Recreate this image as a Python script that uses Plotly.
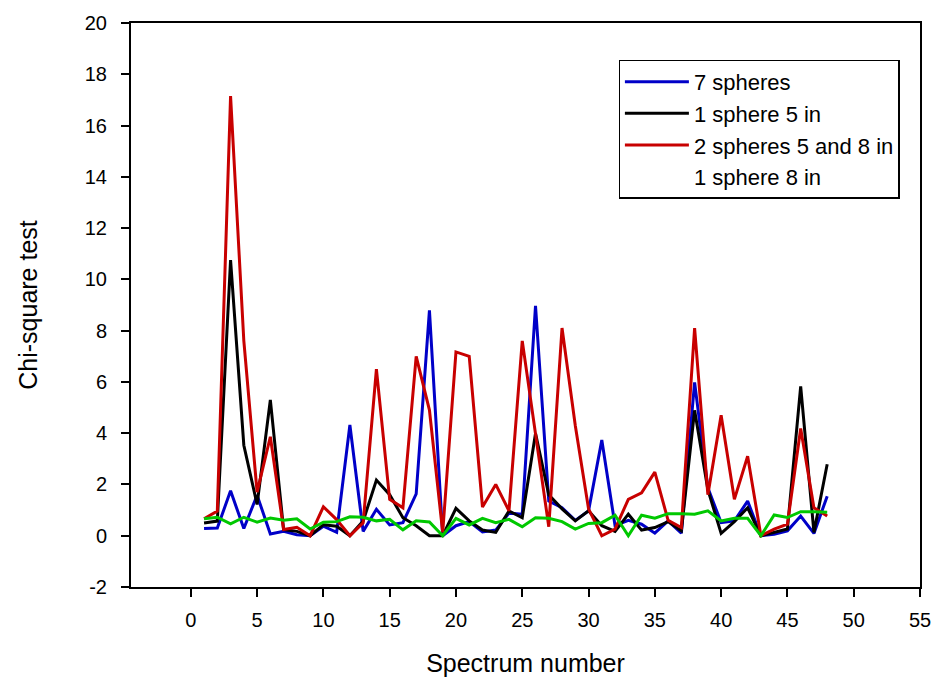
import plotly.graph_objects as go

spectrum = list(range(1, 49))

seven_spheres = [0.28, 0.30, 1.75, 0.28, 1.58, 0.07, 0.17, 0.04, 0.00, 0.37,
                 0.13, 4.32, 0.17, 1.03, 0.42, 0.51, 1.63, 8.79, 0.00, 0.39,
                 0.55, 0.15, 0.22, 0.88, 0.84, 8.97, 1.35, 1.09, 0.60, 0.97,
                 3.73, 0.39, 0.60, 0.45, 0.10, 0.58, 0.10, 5.98, 1.87, 0.51,
                 0.58, 1.35, 0.00, 0.06, 0.19, 0.77, 0.09, 1.54]

one_sphere_5 = [0.50, 0.57, 10.75, 3.53, 1.22, 5.30, 0.24, 0.17, 0.00, 0.43,
                0.37, 0.00, 0.57, 2.17, 1.60, 0.70, 0.39, 0.00, 0.00, 1.07,
                0.58, 0.22, 0.13, 0.97, 0.70, 3.99, 1.60, 1.05, 0.58, 0.97,
                0.39, 0.17, 0.84, 0.22, 0.32, 0.55, 0.19, 4.89, 1.80, 0.09,
                0.55, 1.09, 0.00, 0.13, 0.26, 5.83, 0.13, 2.79]

two_spheres = [0.66, 0.96, 17.15, 7.60, 1.70, 3.86, 0.24, 0.33, 0.00, 1.13,
               0.63, 0.00, 0.50, 6.50, 1.42, 1.09, 7.00, 4.90, 0.13, 7.17,
               7.00, 1.12, 2.00, 0.97, 7.60, 3.90, 0.35, 8.10, 4.30, 1.05,
               0.00, 0.26, 1.42, 1.67, 2.48, 0.60, 0.32, 8.10, 1.60, 4.70,
               1.42, 3.10, 0.00, 0.26, 0.45, 4.18, 1.09, 0.77]

one_sphere_8 = [0.66, 0.72, 0.46, 0.72, 0.53, 0.69, 0.60, 0.66, 0.26, 0.53,
                0.55, 0.74, 0.72, 0.58, 0.64, 0.23, 0.58, 0.54, 0.00, 0.68,
                0.42, 0.68, 0.51, 0.64, 0.35, 0.70, 0.68, 0.55, 0.26, 0.48,
                0.51, 0.80, 0.00, 0.80, 0.68, 0.86, 0.86, 0.84, 0.97, 0.58,
                0.68, 0.68, 0.00, 0.81, 0.71, 0.94, 0.94, 0.92]

x_ticks = [0, 5, 10, 15, 20, 25, 30, 35, 40, 45, 50, 55]
y_ticks = [-2, 0, 2, 4, 6, 8, 10, 12, 14, 16, 18, 20]
y_tick_text = ["-2", "0", "2", "4", "6", "8", "10", "12", "14", "16", "18", "20"]

FONT = "Arial, Liberation Sans, sans-serif"
LW = 3

fig = go.Figure()
fig.add_trace(go.Scatter(x=spectrum, y=seven_spheres, mode="lines", name="7 spheres",
                         legendgroup="a", line=dict(color="#0000C8", width=LW)))
fig.add_trace(go.Scatter(x=spectrum, y=one_sphere_5, mode="lines", name="1 sphere 5 in",
                         legendgroup="b", line=dict(color="#000000", width=LW)))
fig.add_trace(go.Scatter(x=spectrum, y=two_spheres, mode="lines", name="2 spheres 5 and 8 in",
                         legendgroup="c", line=dict(color="#C80000", width=LW)))
fig.add_trace(go.Scatter(x=spectrum, y=one_sphere_8, mode="lines", name="1 sphere 8 in",
                         legendgroup="e", line=dict(color="#00C800", width=LW),
                         showlegend=False))
# legend entry without a visible line sample (as in the reference)
fig.add_trace(go.Scatter(x=[None], y=[None], mode="lines", name="1 sphere 8 in",
                         legendgroup="d", line=dict(color="rgba(0,0,0,0)", width=LW)))

fig.update_layout(
    width=943, height=687,
    margin=dict(l=131, r=16, t=15, b=100),
    paper_bgcolor="white", plot_bgcolor="white",
    font=dict(family=FONT, size=20, color="black"),
    showlegend=True,
    legend=dict(x=0.618, y=0.935, xanchor="left", yanchor="top",
                bordercolor="black", borderwidth=1.3, bgcolor="white",
                font=dict(family=FONT, size=22, color="black"),
                traceorder="grouped", tracegroupgap=0, itemwidth=64),
    xaxis=dict(range=[-4.51, 55], tickvals=x_ticks, ticks="outside", ticklen=8,
               tickwidth=2, tickcolor="black", showline=True, linecolor="black",
               linewidth=2, mirror=True, showgrid=False, zeroline=False,
               ticklabelstandoff=6,
               title=dict(text="Spectrum number", font=dict(size=25), standoff=24),
               tickfont=dict(size=20)),
    yaxis=dict(range=[-2, 20], tickvals=y_ticks, ticktext=y_tick_text,
               ticks="outside", ticklen=8, tickwidth=2, tickcolor="black",
               showline=True, linecolor="black", linewidth=2, mirror=True,
               showgrid=False, zeroline=False, ticklabelstandoff=10,
               title=dict(text="Chi-square test", font=dict(size=25), standoff=40),
               tickfont=dict(size=20)),
)

fig.write_html("out.html")
